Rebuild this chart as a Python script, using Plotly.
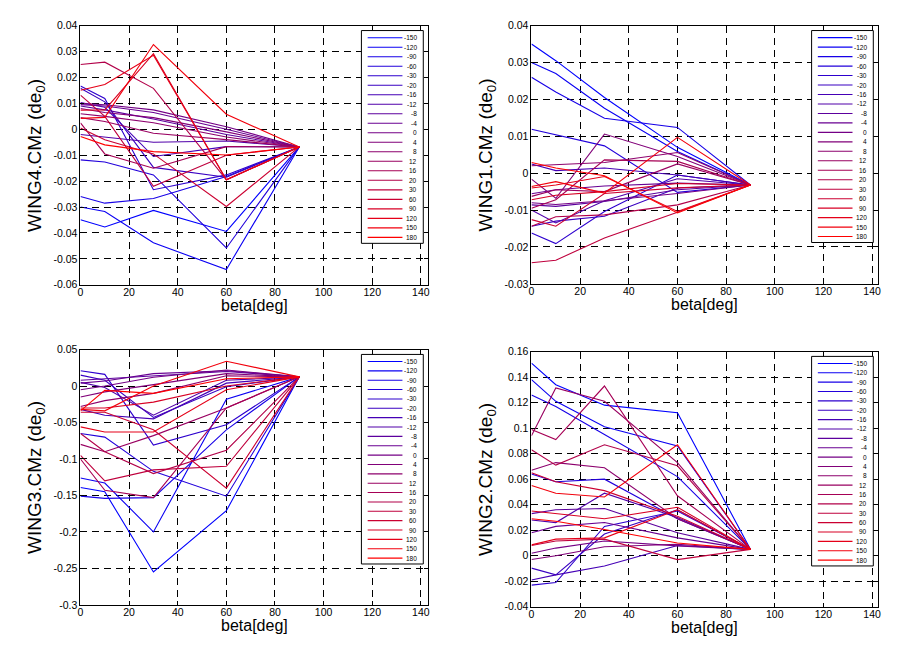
import plotly.graph_objects as go

beta = [0, 10, 30, 60, 90]
labels = ["-150", "-120", "-90", "-60", "-30", "-20", "-16", "-12", "-8", "-4",
          "0", "4", "8", "12", "16", "20", "30", "60", "90", "120", "150", "180"]

wing4 = [
    [-0.0349, -0.0377, -0.0313, -0.0394, -0.0068],
    [-0.0300, -0.0317, -0.0438, -0.0541, -0.0068],
    [-0.0259, -0.0285, -0.0267, -0.0182, -0.0068],
    [-0.0118, -0.0126, -0.0176, -0.0458, -0.0068],
    [0.0167, 0.0119, -0.0233, -0.0176, -0.0068],
    [0.0158, 0.0106, -0.0147, -0.0185, -0.0068],
    [0.0103, 0.0085, -0.0105, -0.0067, -0.0068],
    [-0.0020, -0.0030, -0.0050, -0.0045, -0.0068],
    [0.0090, 0.0075, 0.0040, -0.0020, -0.0068],
    [0.0095, 0.0090, 0.0065, 0.0000, -0.0068],
    [0.0100, 0.0095, 0.0075, 0.0010, -0.0068],
    [0.0080, 0.0065, 0.0045, -0.0010, -0.0068],
    [0.0060, 0.0050, 0.0025, -0.0030, -0.0068],
    [0.0045, 0.0030, -0.0015, -0.0040, -0.0068],
    [0.0025, -0.0095, -0.0150, -0.0067, -0.0068],
    [0.0250, 0.0259, 0.0158, -0.0195, -0.0068],
    [0.0132, 0.0050, -0.0220, -0.0100, -0.0068],
    [0.0005, -0.0040, -0.0095, -0.0298, -0.0068],
    [0.0074, 0.0075, 0.0292, -0.0195, -0.0068],
    [0.0151, 0.0173, 0.0286, -0.0195, -0.0068],
    [0.0042, 0.0046, 0.0327, 0.0058, -0.0068],
    [-0.0028, -0.0060, -0.0086, -0.0099, -0.0068],
]

wing1 = [
    [0.0350, 0.0305, 0.0205, 0.0070, -0.0032],
    [0.0300, 0.0270, 0.0176, 0.0059, -0.0032],
    [0.0260, 0.0220, 0.0149, 0.0124, -0.0032],
    [0.0119, 0.0104, 0.0074, -0.0052, -0.0032],
    [-0.0162, -0.0191, -0.0104, -0.0005, -0.0032],
    [-0.0144, -0.0130, -0.0117, -0.0040, -0.0032],
    [0.0025, 0.0007, 0.0014, -0.0005, -0.0032],
    [-0.0100, -0.0135, -0.0075, -0.0015, -0.0032],
    [-0.0086, -0.0090, -0.0077, -0.0045, -0.0032],
    [-0.0056, -0.0045, -0.0035, -0.0027, -0.0032],
    [-0.0080, -0.0085, -0.0075, -0.0055, -0.0032],
    [-0.0016, -0.0068, 0.0106, 0.0045, -0.0032],
    [0.0020, 0.0023, 0.0029, 0.0056, -0.0032],
    [-0.0063, -0.0045, -0.0050, 0.0025, -0.0032],
    [-0.0095, -0.0072, 0.0036, 0.0032, -0.0032],
    [-0.0144, -0.0118, -0.0113, -0.0086, -0.0032],
    [-0.0243, -0.0236, -0.0176, -0.0106, -0.0032],
    [-0.0126, -0.0144, -0.0055, -0.0040, -0.0032],
    [-0.0072, -0.0060, -0.0050, -0.0028, -0.0032],
    [-0.0040, -0.0032, -0.0009, -0.0104, -0.0032],
    [-0.0036, -0.0023, -0.0054, 0.0097, -0.0032],
    [0.0029, 0.0014, -0.0007, -0.0108, -0.0032],
]

wing3 = [
    [-0.139, -0.145, -0.255, -0.171, 0.0126],
    [-0.126, -0.133, -0.200, -0.018, 0.0126],
    [-0.151, -0.154, -0.153, -0.060, 0.0126],
    [-0.065, -0.070, -0.117, -0.151, 0.0126],
    [0.021, 0.016, -0.081, -0.053, 0.0126],
    [0.015, 0.008, -0.043, -0.001, 0.0126],
    [-0.032, -0.040, -0.045, 0.004, 0.0126],
    [0.005, -0.002, -0.040, 0.008, 0.0126],
    [0.008, 0.010, 0.014, 0.020, 0.0126],
    [0.004, 0.007, 0.017, 0.021, 0.0126],
    [-0.005, 0.000, 0.012, 0.022, 0.0126],
    [-0.015, -0.008, 0.002, 0.017, 0.0126],
    [-0.028, -0.020, -0.010, 0.014, 0.0126],
    [-0.080, -0.090, -0.068, -0.030, 0.0126],
    [-0.100, -0.143, -0.153, -0.030, 0.0126],
    [-0.065, -0.090, -0.120, -0.088, 0.0126],
    [-0.095, -0.130, -0.115, -0.110, 0.0126],
    [-0.036, -0.036, -0.060, -0.140, 0.0126],
    [-0.030, -0.030, -0.022, 0.000, 0.0126],
    [-0.056, -0.063, -0.063, -0.005, 0.0126],
    [-0.032, -0.034, 0.000, 0.034, 0.0126],
    [-0.034, -0.006, -0.010, 0.010, 0.0126],
]

wing2 = [
    [0.151, 0.134, 0.118, 0.112, 0.005],
    [0.138, 0.121, 0.101, 0.086, 0.005],
    [0.126, 0.117, 0.095, 0.062, 0.005],
    [0.064, 0.058, 0.060, 0.029, 0.005],
    [-0.023, -0.021, 0.023, 0.035, 0.005],
    [-0.0097, -0.015, 0.017, 0.036, 0.005],
    [-0.019, -0.015, -0.008, 0.008, 0.005],
    [0.028, 0.026, 0.049, 0.030, 0.005],
    [0.033, 0.036, 0.037, 0.018, 0.005],
    [0.018, 0.023, 0.026, 0.014, 0.005],
    [0.002, 0.006, 0.0115, 0.0077, 0.005],
    [-0.003, 0.000, 0.007, 0.009, 0.005],
    [0.067, 0.073, 0.069, 0.029, 0.005],
    [0.094, 0.1315, 0.121, 0.073, 0.005],
    [0.099, 0.091, 0.133, 0.047, 0.005],
    [0.083, 0.071, 0.087, 0.0705, 0.005],
    [0.008, 0.0115, 0.013, -0.003, 0.005],
    [0.065, 0.058, 0.051, 0.031, 0.005],
    [0.035, 0.033, 0.029, 0.038, 0.005],
    [0.0085, 0.013, 0.014, 0.036, 0.005],
    [0.055, 0.049, 0.046, 0.087, 0.005],
    [0.029, 0.027, 0.0205, 0.010, 0.005],
]

x_ticks = [0, 20, 40, 60, 80, 100, 120, 140]
y_ticks_w4 = [0.04, 0.03, 0.02, 0.01, 0, -0.01, -0.02, -0.03, -0.04, -0.05, -0.06]
y_text_w4 = ["0.04", "0.03", "0.02", "0.01", "0", "-0.01", "-0.02", "-0.03", "-0.04", "-0.05", "-0.06"]
y_ticks_w1 = [0.04, 0.03, 0.02, 0.01, 0, -0.01, -0.02, -0.03]
y_text_w1 = ["0.04", "0.03", "0.02", "0.01", "0", "-0.01", "-0.02", "-0.03"]
y_ticks_w3 = [0.05, 0, -0.05, -0.1, -0.15, -0.2, -0.25, -0.3]
y_text_w3 = ["0.05", "0", "-0.05", "-0.1", "-0.15", "-0.2", "-0.25", "-0.3"]
y_ticks_w2 = [0.16, 0.14, 0.12, 0.1, 0.08, 0.06, 0.04, 0.02, 0, -0.02, -0.04]
y_text_w2 = ["0.16", "0.14", "0.12", "0.1", "0.08", "0.06", "0.04", "0.02", "0", "-0.02", "-0.04"]

FONT = "Liberation Sans, Arial, sans-serif"
n = len(labels)
colors = []
for i in range(n):
    t = i / (n - 1)
    colors.append(f"rgb({int(round(235 * t + 20 * t * t))},0,{int(round(255 * (1 - t)))})")

panels = [
    (wing4, "WING4.CMz (de<sub>0</sub>)", y_ticks_w4, y_text_w4, [-0.06, 0.04],
     [78 / 905, 428 / 905], [1 - 284 / 655, 1 - 20 / 655], [0, 143]),
    (wing1, "WING1.CMz (de<sub>0</sub>)", y_ticks_w1, y_text_w1, [-0.03, 0.04],
     [532 / 905, 881 / 905], [1 - 283 / 655, 1 - 20 / 655], [0, 142.5]),
    (wing3, "WING3.CMz (de<sub>0</sub>)", y_ticks_w3, y_text_w3, [-0.3, 0.05],
     [78 / 905, 428 / 905], [1 - 610 / 655, 1 - 350 / 655], [0, 143]),
    (wing2, "WING2.CMz (de<sub>0</sub>)", y_ticks_w2, y_text_w2, [-0.04, 0.16],
     [532 / 905, 881 / 905], [1 - 612 / 655, 1 - 352 / 655], [0, 142.5]),
]

fig = go.Figure()
shapes = []
annotations = []
layout = {}

for k, (data, ylab, yt, ytt, yr, xd, yd, xr) in enumerate(panels, start=1):
    suffix = "" if k == 1 else str(k)
    xa, ya = "x" + suffix, "y" + suffix
    for i, series in enumerate(data):
        fig.add_trace(go.Scatter(
            x=beta, y=series, mode="lines", name=labels[i],
            line=dict(color=colors[i], width=1.1),
            xaxis=xa, yaxis=ya, showlegend=False, hoverinfo="skip"))
    axis_common = dict(
        showline=True, linecolor="black", linewidth=1, mirror="ticks",
        ticks="inside", ticklen=4, tickcolor="black",
        showgrid=True, gridcolor="black", gridwidth=1, griddash="7px,5px",
        zeroline=False, tickfont=dict(family=FONT, size=10.5, color="black"),
    )
    layout["xaxis" + suffix] = dict(
        domain=xd, range=xr, anchor=ya, tickvals=x_ticks,
        ticktext=[str(v) for v in x_ticks], ticklabelstandoff=-2, **axis_common)
    layout["yaxis" + suffix] = dict(
        domain=yd, range=yr, anchor=xa, tickvals=yt, ticktext=ytt, **axis_common)

    annotations.append(dict(
        text=ylab, xref="paper", yref="paper",
        x=xd[0] - 45 / 905, y=(yd[0] + yd[1]) / 2, textangle=-90,
        showarrow=False, xanchor="center", yanchor="middle",
        font=dict(family=FONT, size=19, color="black")))
    annotations.append(dict(
        text="beta[deg]", xref="paper", yref="paper",
        x=(xd[0] + xd[1]) / 2, y=yd[0] - 21 / 655,
        showarrow=False, xanchor="center", yanchor="middle",
        font=dict(family=FONT, size=16, color="black")))

    xdom, ydom = xa + " domain", ya + " domain"
    shapes.append(dict(type="rect", xref=xdom, yref=ydom,
                       x0=0.808, x1=0.986, y0=1 - 0.840, y1=1 - 0.019,
                       line=dict(color="black", width=1), fillcolor="white",
                       layer="above"))
    top, bot = 0.0466, 0.817
    for i, lab in enumerate(labels):
        yy = 1 - (top + i * (bot - top) / (n - 1))
        shapes.append(dict(type="line", xref=xdom, yref=ydom,
                           x0=0.826, x1=0.926, y0=yy, y1=yy,
                           line=dict(color=colors[i], width=1.1), layer="above"))
        annotations.append(dict(text=lab, xref=xdom, yref=ydom, x=0.975, y=yy,
                                xanchor="right", yanchor="middle", showarrow=False,
                                font=dict(family=FONT, size=6.5, color="black")))

fig.update_layout(
    width=905, height=655, margin=dict(l=0, r=0, t=0, b=0),
    paper_bgcolor="white", plot_bgcolor="white",
    shapes=shapes, annotations=annotations, showlegend=False, **layout)

fig.write_html("out.html")
